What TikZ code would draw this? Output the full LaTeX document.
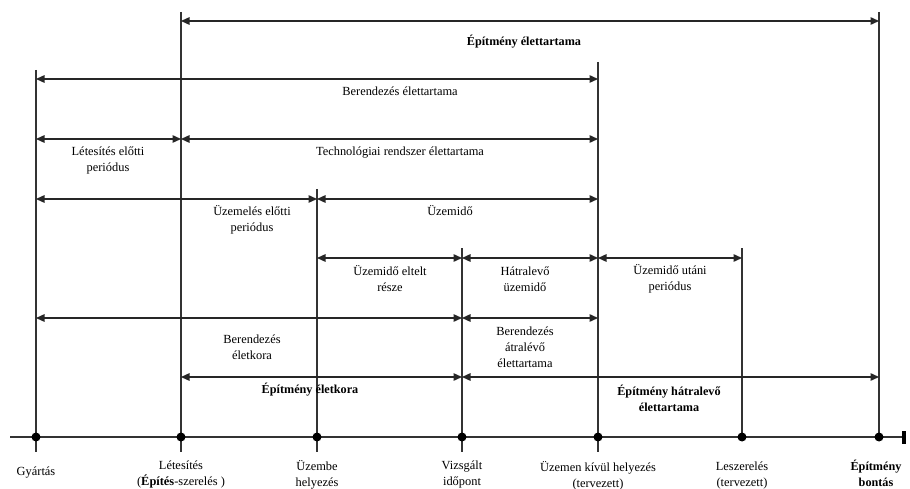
\documentclass[tikz,border=0pt]{standalone}
\usepackage{fontspec}
\setmainfont{Liberation Serif}
\usetikzlibrary{arrows.meta}
\begin{document}
\begin{tikzpicture}[x=1pt,y=-1pt,
  span/.style={{Triangle[length=8.5pt,width=7.5pt]}-{Triangle[length=8.5pt,width=7.5pt]}, line width=1.4pt, black!85},
  vline/.style={line width=1.1pt, black!80},
  lbl/.style={font=\fontsize{12.4}{16}\selectfont, align=center, inner sep=0pt},
  blbl/.style={font=\fontsize{12.2}{16}\selectfont\bfseries, align=center, inner sep=0pt},
  dot/.style={circle, fill=black, inner sep=0pt, minimum size=9pt},
]
\useasboundingbox (0,0) rectangle (910,489);
% axis points
\coordinate (G) at (36,437);
\coordinate (L) at (181,437);
\coordinate (U) at (317,437);
\coordinate (V) at (462,437);
\coordinate (K) at (598,437);
\coordinate (S) at (742,437);
\coordinate (B) at (879,437);
% rows
\coordinate (r1) at (0,21);
\coordinate (r2) at (0,79);
\coordinate (r3) at (0,139);
\coordinate (r4) at (0,199);
\coordinate (r5) at (0,258);
\coordinate (r6) at (0,318);
\coordinate (r7) at (0,377);
% tops
\coordinate (Gt) at (36,70);
\coordinate (Lt) at (181,12);
\coordinate (Ut) at (317,189);
\coordinate (Vt) at (462,248);
\coordinate (Kt) at (598,62);
\coordinate (St) at (742,248);
\coordinate (Bt) at (879,12);
% bottoms
\coordinate (Gb) at (36,452);
\coordinate (Lb) at (181,452);
\coordinate (Ub) at (317,452);
\coordinate (Vb) at (462,452);
\coordinate (Kb) at (598,452);
% axis ends
\coordinate (A0) at (10,437);
\coordinate (A1) at (904,437);
\coordinate (E1) at (904,431);
\coordinate (E2) at (904,444);

% vertical lines
\draw[vline] (Gt) -- (Gb);
\draw[vline] (Lt) -- (Lb);
\draw[vline] (Ut) -- (Ub);
\draw[vline] (Vt) -- (Vb);
\draw[vline] (Kt) -- (Kb);
\draw[vline] (St) -- (S);
\draw[vline] (Bt) -- (B);

% axis
\draw[vline, line width=1.3pt] (A0) -- (A1);
\draw[line width=3.5pt] (E1) -- (E2);
\foreach \p in {G,L,U,V,K,S,B} \node[dot] (d\p) at (\p) {};

% spans
\draw[span] (L |- r1) -- (B |- r1);
\draw[span] (G |- r2) -- (K |- r2);
\draw[span] (G |- r3) -- (L |- r3);
\draw[span] (L |- r3) -- (K |- r3);
\draw[span] (G |- r4) -- (U |- r4);
\draw[span] (U |- r4) -- (K |- r4);
\draw[span] (U |- r5) -- (V |- r5);
\draw[span] (V |- r5) -- (K |- r5);
\draw[span] (K |- r5) -- (S |- r5);
\draw[span] (G |- r6) -- (V |- r6);
\draw[span] (V |- r6) -- (K |- r6);
\draw[span] (L |- r7) -- (V |- r7);
\draw[span] (V |- r7) -- (B |- r7);

% span labels
\node[blbl] (n1) at (524,42) {Építmény élettartama};
\node[lbl] (n2) at (400,91) {Berendezés élettartama};
\node[lbl] (n3) at (108,161) {Létesítés előtti\\periódus};
\node[lbl] (n4) at (400,153) {Technológiai rendszer élettartama};
\node[lbl] (n5) at (252,220) {Üzemelés előtti\\periódus};
\node[lbl] (n6) at (450,211) {Üzemidő};
\node[lbl] (n7) at (390,279) {Üzemidő eltelt\\része};
\node[lbl] (n8) at (525,279) {Hátralevő\\üzemidő};
\node[lbl] (n9) at (670,279) {Üzemidő utáni\\periódus};
\node[lbl] (n10) at (252,347) {Berendezés\\életkora};
\node[lbl] (n11) at (525,347) {Berendezés\\átralévő\\élettartama};
\node[blbl] (n12) at (310,390) {Építmény életkora};
\node[blbl] (n13) at (669,398) {Építmény hátralevő\\élettartama};

% axis labels
\node[lbl] (t1) at (36,473) {Gyártás};
\node[lbl] (t2) at (181,475) {Létesítés\\(\textbf{Építés}-szerelés )};
\node[lbl] (t3) at (317,475) {Üzembe\\helyezés};
\node[lbl] (t4) at (462,475) {Vizsgált\\időpont};
\node[lbl] (t5) at (598,476) {Üzemen kívül helyezés\\(tervezett)};
\node[lbl] (t6) at (742,476) {Leszerelés\\(tervezett)};
\node[blbl] (t7) at (876,473) {Építmény\\bontás};
\end{tikzpicture}
\end{document}
